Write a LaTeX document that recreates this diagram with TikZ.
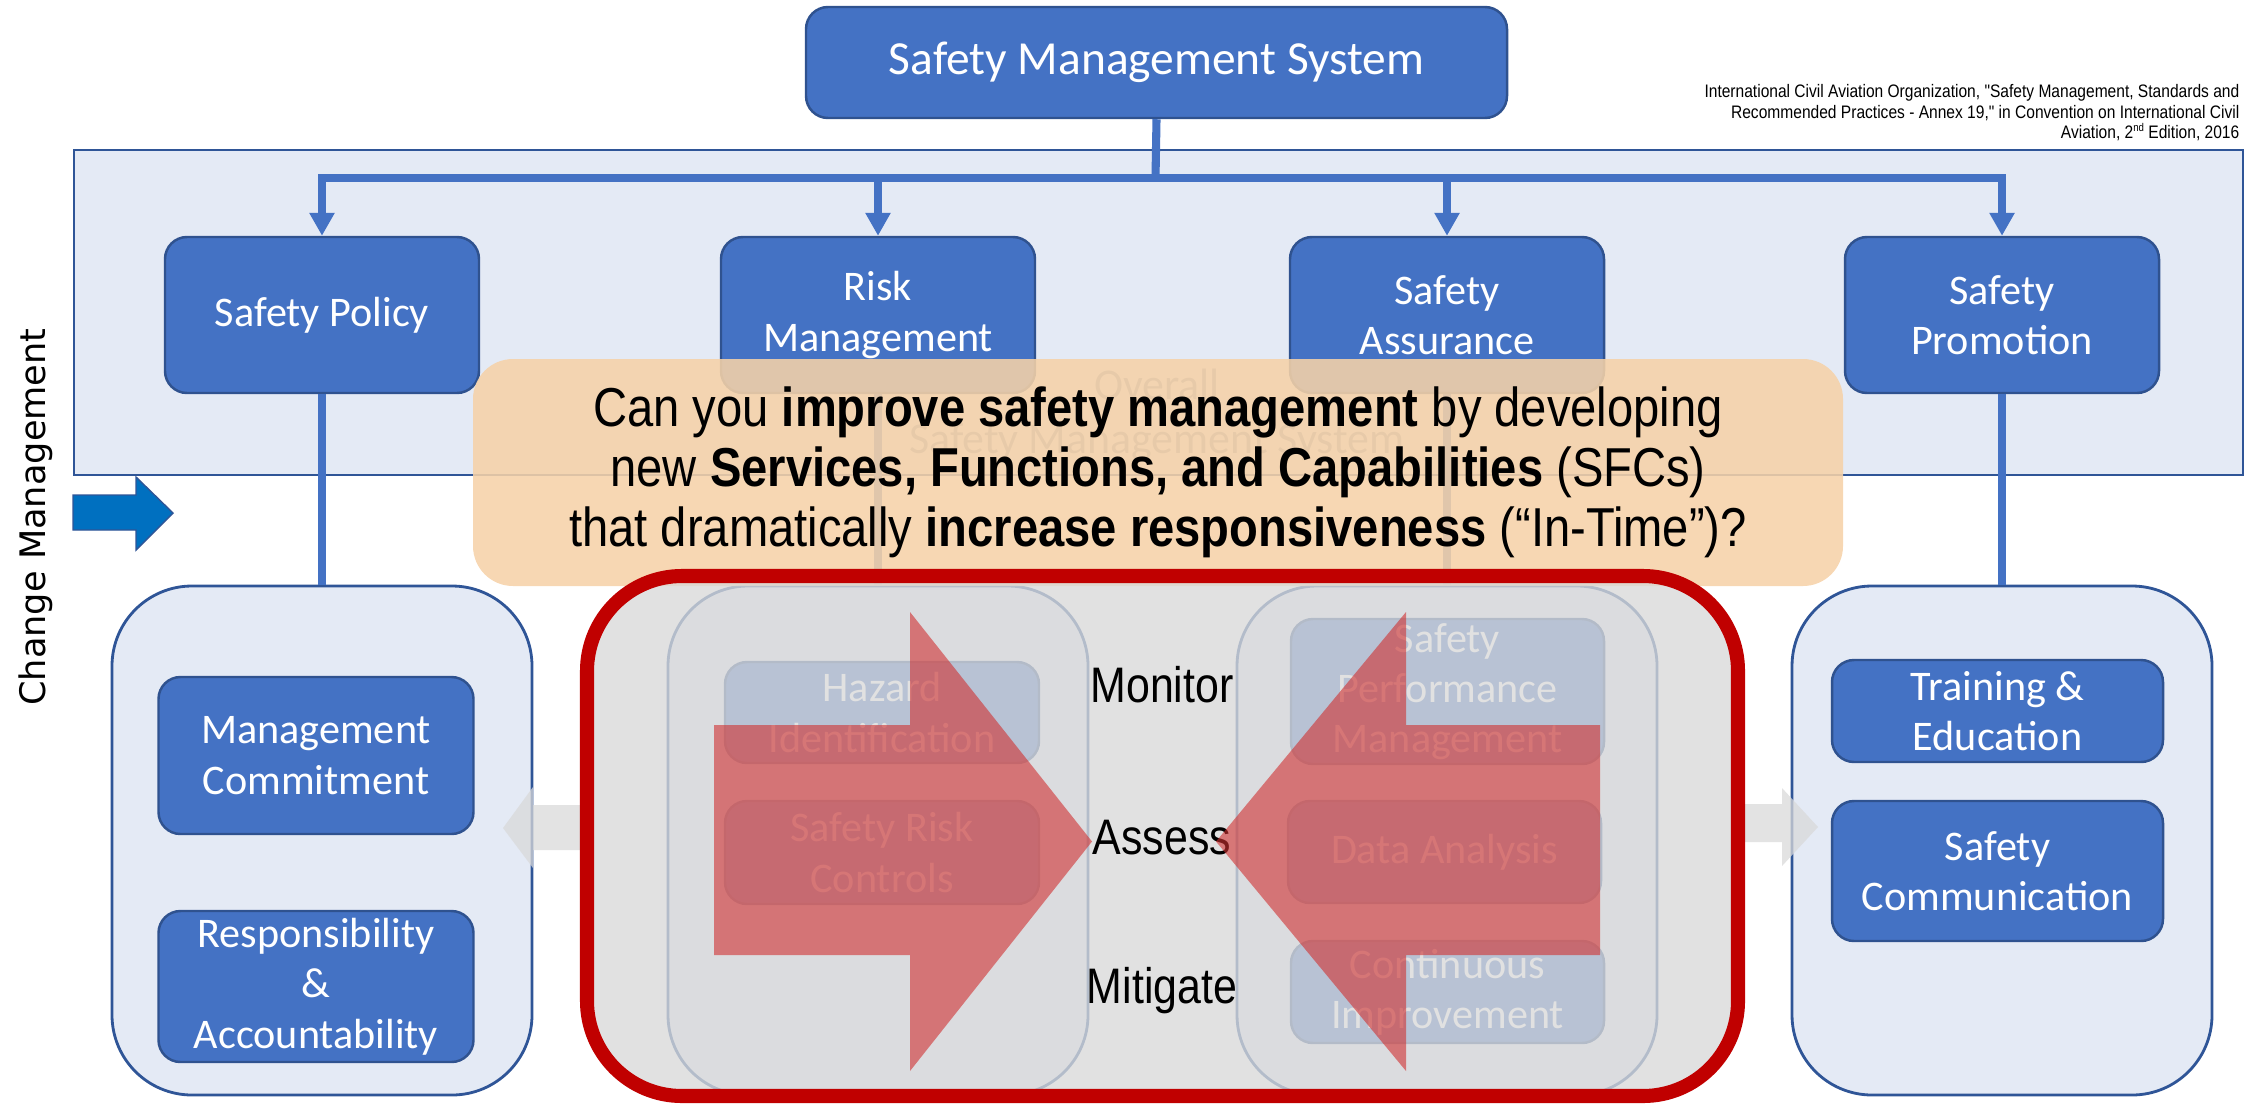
\documentclass[tikz,border=0pt]{standalone}
\usepackage{fontspec}
\setmainfont{Carlito}
\newfontfamily\narrowsans{Liberation Sans}[FakeStretch=0.86]
\newfontfamily\sidesans{DejaVu Sans}
\usetikzlibrary{arrows.meta}

\definecolor{smsblue}{RGB}{68,114,196}
\definecolor{smsedge}{RGB}{47,82,143}
\definecolor{paleblue}{RGB}{228,234,245}
\definecolor{paleedge}{RGB}{47,85,151}
\definecolor{cmblue}{RGB}{0,112,192}
\definecolor{fadegray}{RGB}{217,217,217}
\definecolor{focusred}{RGB}{192,0,0}
\definecolor{arrowred}{RGB}{208,48,48}
\definecolor{calloutpeach}{RGB}{246,210,168}
\definecolor{ghosttext}{RGB}{127,147,184}

\tikzset{
      topbox/.style={
        rounded corners=0.22cm,
        draw=smsedge,
        line width=0.7pt,
        fill=smsblue,
        text=white,
        align=center,
        inner sep=0pt,
        font=\fontsize{12}{14.3}\selectfont
      },
      pillarbox/.style={topbox, minimum width=3.14cm, minimum height=1.56cm},
      itembox/.style={topbox, minimum width=3.14cm},
      groupbox/.style={
        rounded corners=0.8cm,
        draw=paleedge,
        line width=0.8pt,
        fill=paleblue,
        minimum width=4.2cm,
        minimum height=5.09cm,
        inner sep=0pt
      },
      link/.style={draw=smsblue, line width=2.3pt},
      linkarrow/.style={link, -{Triangle[length=2.3mm, width=2.4mm]}},
      stagetext/.style={font=\narrowsans\fontsize{14.2}{17}\selectfont, inner sep=0pt},
      bigarrow/.style={fill=arrowred, fill opacity=0.6, draw=none},
      ghostarrow/.style={fill=fadegray, fill opacity=0.75, draw=none}
    }

\begin{document}
\begin{tikzpicture}[x=1cm,y=1cm]
    \useasboundingbox (0,0) rectangle (22.46,-11.08);

    % overall frame behind the four pillars
    \node[draw=paleedge, line width=0.8pt, fill=paleblue, minimum width=21.69cm, minimum height=3.25cm, inner sep=0pt] (overall) at (11.585,-3.125) {};
    \node[text=ghosttext, align=center, font=\fontsize{12.5}{15.5}\selectfont] (ghost) at (11.57,-4.15) {Overall\\Safety Management System};

    \node[topbox, minimum width=7.01cm, minimum height=1.11cm, font=\fontsize{13.5}{16}\selectfont] (sms) at (11.565,-0.625) {Safety Management System};

    \node[pillarbox] (pol) at (3.22,-3.15) {Safety Policy};
    \node[pillarbox] (risk) at (8.78,-3.15) {Risk\\Management};
    \node[pillarbox] (assur) at (14.47,-3.15) {Safety\\Assurance};
    \node[pillarbox] (prom) at (20.02,-3.15) {Safety\\Promotion};

    \coordinate (bus) at (11.555,-1.78);
    \draw[link] (sms.south) -- (bus);
    \draw[link, line cap=rect] (pol.north |- bus) -- (prom.north |- bus);
    \foreach \p in {pol,risk,assur,prom}
      \draw[linkarrow] (\p.north |- bus) -- (\p.north);

    % lower groups
    \node[groupbox] (leftgrp) at (3.22,-8.405) {};
    \node[groupbox] (srmgrp) at (8.78,-8.405) {};
    \node[groupbox] (sagrp) at (14.47,-8.405) {};
    \node[groupbox] (rightgrp) at (20.02,-8.405) {};

    \draw[link] (pol.south) -- (leftgrp.north);
    \draw[link] (risk.south) -- (srmgrp.north);
    \draw[link] (assur.south) -- (sagrp.north);
    \draw[link] (prom.south) -- (rightgrp.north);

    \node[itembox, minimum width=3.15cm, minimum height=1.57cm] (commit) at (3.16,-7.555) {Management\\Commitment};
    \node[itembox, minimum width=3.15cm, minimum height=1.51cm] (account) at (3.16,-9.865) {Responsibility\\\&\\Accountability};

    \node[itembox, minimum width=3.31cm, minimum height=1.02cm] (train) at (19.975,-7.11) {Training \&\\Education};
    \node[itembox, minimum width=3.31cm, minimum height=1.40cm] (comm) at (19.975,-8.71) {Safety\\Communication};

    \node[itembox, minimum height=1.01cm] (hazard) at (8.82,-7.125) {Hazard\\Identification};
    \node[itembox, minimum height=1.03cm] (controls) at (8.82,-8.525) {Safety Risk\\Controls};
    \node[itembox, minimum width=3.13cm, minimum height=1.45cm] (perf) at (14.475,-6.915) {Safety\\Performance\\Management};
    \node[itembox, minimum width=3.13cm, minimum height=1.02cm] (data) at (14.445,-8.52) {Data Analysis};
    \node[itembox, minimum width=3.13cm, minimum height=1.02cm] (improve) at (14.475,-9.92) {Continuous\\Improvement};

    % faint hand-over arrows
    \path[ghostarrow] (5.85,-8.05) -- (5.33,-8.05) -- (5.33,-7.87) -- (5.03,-8.28) -- (5.33,-8.68) -- (5.33,-8.50) -- (5.85,-8.50) -- cycle;
    \path[ghostarrow] (17.40,-8.04) -- (17.82,-8.04) -- (17.82,-7.88) -- (18.18,-8.27) -- (17.82,-8.66) -- (17.82,-8.42) -- (17.40,-8.42) -- cycle;

    \node[fill=calloutpeach, fill opacity=0.88, text opacity=1, rounded corners=0.4cm, minimum width=13.70cm, minimum height=2.27cm, inner sep=0pt, align=center, font=\narrowsans\fontsize{15.6}{17.1}\selectfont] (question) at (11.58,-4.725)
      {Can you \textbf{improve safety management} by developing\\
       new \textbf{Services, Functions, and Capabilities} (SFCs)\\
       that dramatically \textbf{increase responsiveness} (“In-Time”)?};

    \node[draw=focusred, line width=4pt, fill=fadegray, fill opacity=0.78, rounded corners=0.95cm, minimum width=11.51cm, minimum height=5.20cm, inner sep=0pt] (focus) at (11.625,-8.36) {};

    \node[stagetext] (mon) at (11.62,-6.85) {Monitor};
    \node[stagetext] (ass) at (11.62,-8.38) {Assess};
    \node[stagetext] (mit) at (11.62,-9.91) {Mitigate};

    \path[bigarrow] (7.14,-7.25) -- (9.10,-7.25) -- (9.10,-6.12) -- (10.92,-8.415) -- (9.10,-10.71) -- (9.10,-9.55) -- (7.14,-9.55) -- cycle;
    \path[bigarrow] (16.00,-7.25) -- (14.06,-7.25) -- (14.06,-6.12) -- (12.16,-8.415) -- (14.06,-10.71) -- (14.06,-9.55) -- (16.00,-9.55) -- cycle;

    \node[anchor=north east, align=right, inner sep=0pt, font=\narrowsans\fontsize{5.15}{5.75}\selectfont] (cite) at (22.40,-0.84)
      {International Civil Aviation Organization, "Safety Management, Standards and\\
       Recommended Practices - Annex 19," in Convention on International Civil\\
       Aviation, 2\smash{\raisebox{0.35em}{\fontsize{3.2}{3.5}\selectfont nd}} Edition, 2016};

    \node[rotate=90, inner sep=0pt, font=\sidesans\fontsize{10}{12}\selectfont] (change) at (0.36,-5.17) {Change Management};
    \path[fill=cmblue, draw=paleedge, line width=0.4pt] (0.73,-4.95) -- (1.36,-4.95) -- (1.36,-4.77) -- (1.73,-5.13) -- (1.36,-5.50) -- (1.36,-5.30) -- (0.73,-5.30) -- cycle;
    \end{tikzpicture}
\end{document}
